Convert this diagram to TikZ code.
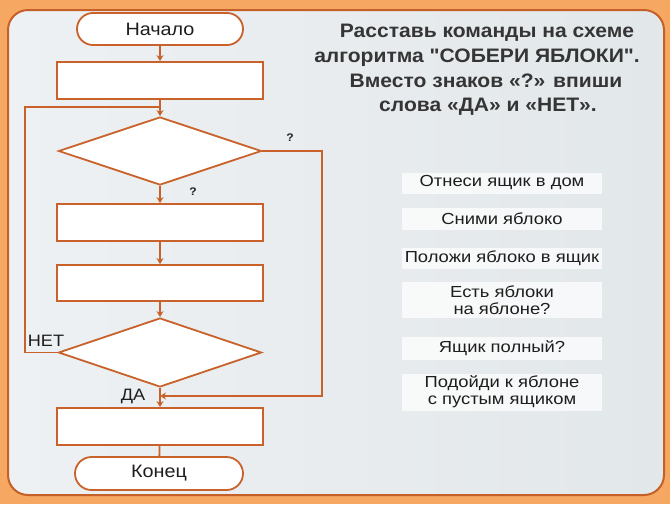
\documentclass[tikz,border=0pt]{standalone}
\usepackage{fontspec}
\setmainfont{Liberation Sans}[FakeStretch=1.1]
\newfontfamily\optfont{Liberation Sans}[FakeStretch=1.15]
\newfontfamily\titlefont{Liberation Sans}[FakeStretch=1.08, Ligatures=ResetAll]
\usetikzlibrary{shapes.geometric,shapes.misc,arrows.meta}
\definecolor{outerorange}{RGB}{246,168,98}
\definecolor{frameline}{RGB}{196,96,40}
\definecolor{flowline}{RGB}{200,98,42}
\definecolor{panel}{RGB}{226,231,234}
\definecolor{panellight}{RGB}{238,241,243}
\definecolor{txt}{RGB}{30,30,30}
\tikzset{
  blockbox/.style={draw=flowline, line width=1.8pt, fill=white, minimum width=206pt, inner sep=0pt},
  termbox/.style={draw=flowline, line width=1.8pt, fill=white, rounded rectangle, minimum width=166pt, minimum height=32pt, inner sep=0pt, font=\fontsize{18}{20}\selectfont, text=txt},
  decbox/.style={draw=flowline, line width=1.8pt, fill=white, diamond, minimum width=203pt, inner sep=0pt},
  flow/.style={draw=flowline, line width=1.8pt},
  flowarrow/.style={flow, -{Stealth[length=6pt,width=7pt]}},
  branchlbl/.style={font=\fontsize{16.5}{18}\selectfont, text=txt, inner sep=0pt},
  qlbl/.style={font=\fontsize{11}{12}\selectfont\bfseries, text=txt, inner sep=0pt},
  titleline/.style={font=\titlefont\fontsize{19.5}{22}\selectfont\bfseries, text=txt!90, inner sep=0pt, anchor=base},
  optbox/.style={fill=white, fill opacity=0.72, text opacity=1, minimum width=200pt, inner sep=0pt, font=\optfont\fontsize{16}{17}\selectfont, text=txt, align=center},
}
\begin{document}
\begin{tikzpicture}[x=1pt,y=-1pt]
\useasboundingbox (0,0) rectangle (670,504);
% background
\fill[outerorange] (0,0) rectangle (670,504);
\shade[left color=panellight, right color=panel, rounded corners=20pt, draw=frameline, line width=2pt] (8,10) rectangle (664,495);

% flowchart nodes
\node[termbox] (start) at (160,29) {Начало};
\node[blockbox, minimum height=37pt] (r1) at (160,80.5) {};
\node[decbox, minimum height=68pt] (d1) at (160,151) {};
\node[blockbox, minimum height=37pt] (r2) at (160,222.5) {};
\node[blockbox, minimum height=36pt] (r3) at (160,283) {};
\node[decbox, minimum height=69pt] (d2) at (160,352.5) {};
\node[blockbox, minimum height=37pt] (r4) at (160,426.5) {};
\node[termbox, minimum width=168pt, minimum height=33pt] (end) at (159,473.5) {Конец};

\coordinate (looptop) at (160,107);
\coordinate (join) at (160,396);

% connectors
\draw[flowarrow] (start) -- (r1);
\draw[flow] (r1) -- (looptop);
\draw[flowarrow] (looptop) -- (d1.north);
\draw[flow] (d2.west) -- (25,352.5) |- (looptop);
\draw[flowarrow] (d1) -- (r2);
\draw[flowarrow] (r2) -- (r3);
\draw[flowarrow] (r3) -- (d2);
\draw[flowarrow] (d2) -- (r4);
\draw[flow] (d1.east) -- (322,151) |- (165,396);
\draw[flowarrow] (322,396) -- (join);
\draw[flow] (r4) -- (end);

% labels
\node[qlbl] (q1) at (290,138) {?};
\node[qlbl] (q2) at (193,192) {?};
\node[branchlbl] (net) at (46,341) {НЕТ};
\node[branchlbl] (da) at (133,396) {ДА};

% title
\node[titleline] (t1) at (487,37) {Расставь команды на схеме};
\node[titleline] (t2) at (477,62) {алгоритма "СОБЕРИ ЯБЛОКИ".};
\node[titleline] (t3) at (486,87) {Вместо знаков «?» впиши};
\node[titleline] (t4) at (488,111) {слова «ДА» и «НЕТ».};

% option boxes
\node[optbox, minimum height=21pt] (o1) at (502,183) {Отнеси ящик в дом};
\node[optbox, minimum height=22pt] (o2) at (502,219) {Сними яблоко};
\node[optbox, minimum height=21pt] (o3) at (502,258) {Положи яблоко в ящик};
\node[optbox, minimum height=36pt] (o4) at (502,300) {Есть яблоки\\на яблоне?};
\node[optbox, minimum height=23pt] (o5) at (502,348) {Ящик полный?};
\node[optbox, minimum height=37pt] (o6) at (502,392) {Подойди к яблоне\\с пустым ящиком};
\end{tikzpicture}
\end{document}
